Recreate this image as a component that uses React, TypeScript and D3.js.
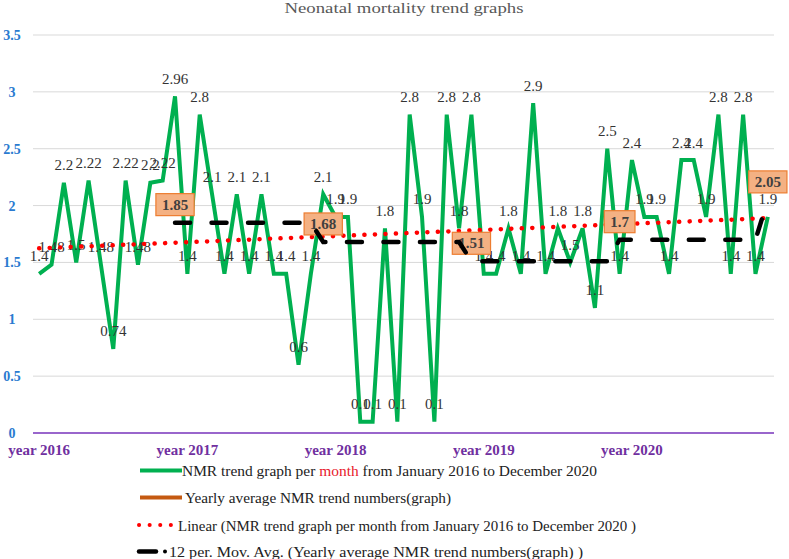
import React from "react";
import * as d3 from "d3";

const title = "Neonatal mortality trend  graphs";
const yearLabels = ["year 2016", "year 2017", "year 2018", "year 2019", "year 2020"];
const nmrMonthly2016 = [1.4, 1.48, 2.2, 1.5, 2.22, 1.48, 0.74, 2.22, 1.48, 2.2, 2.22, 2.96];
const nmrMonthly2017 = [1.4, 2.8, 2.1, 1.4, 2.1, 1.4, 2.1, 1.4, 1.4, 0.6, 1.4, 2.1];
const nmrMonthly2018 = [1.9, 1.9, 0.1, 0.1, 1.8, 0.1, 2.8, 1.9, 0.1, 2.8, 1.8, 2.8];
const nmrMonthly2019 = [1.4, 1.4, 1.8, 1.4, 2.9, 1.4, 1.8, 1.5, 1.8, 1.1, 2.5, 1.4];
const nmrMonthly2020 = [2.4, 1.9, 1.9, 1.4, 2.4, 2.4, 1.9, 2.8, 1.4, 2.8, 1.4, 1.9];
const yearlyAverage = [1.85, 1.68, 1.51, 1.7, 2.05];
const yTicks = [0, 0.5, 1, 1.5, 2, 2.5, 3, 3.5];
const legendLabels = [
  "NMR trend graph per month from January 2016 to December 2020",
  "Yearly average NMR trend numbers(graph)",
  "Linear (NMR trend graph per month from January 2016 to December 2020 )",
  "12 per. Mov. Avg. (Yearly average NMR trend numbers(graph) )",
];

const W = 789;
const H = 559;
const PL = 33;
const PR = 774;
const PT = 35;
const PB = 433;

const serif = "Liberation Serif, DejaVu Serif, serif";

export default function App() {
  const monthly = [
    ...nmrMonthly2016,
    ...nmrMonthly2017,
    ...nmrMonthly2018,
    ...nmrMonthly2019,
    ...nmrMonthly2020,
  ];
  const n = monthly.length;
  const idx = d3.range(n);
  const xb = d3.scaleBand<number>().domain(idx).range([PL, PR]);
  const cx = (i: number) => (xb(i) as number) + xb.bandwidth() / 2;
  const y = d3.scaleLinear().domain([0, 3.5]).range([PB, PT]);

  // yearly series: value only at December of each year
  const yearly: (number | null)[] = idx.map((i) =>
    i % 12 === 11 ? yearlyAverage[Math.floor(i / 12)] : null
  );

  // 12-period moving average of yearly series (blanks ignored)
  const ma: [number, number][] = [];
  for (let i = 11; i < n; i++) {
    const w = yearly.slice(i - 11, i + 1).filter((v) => v != null) as number[];
    if (w.length) ma.push([i, d3.mean(w) as number]);
  }

  // linear trend of monthly series
  const mx = d3.mean(idx) as number;
  const my = d3.mean(monthly) as number;
  let sxy = 0;
  let sxx = 0;
  idx.forEach((i) => {
    sxy += (i - mx) * (monthly[i] - my);
    sxx += (i - mx) * (i - mx);
  });
  const slope = sxy / sxx;
  const icpt = my - slope * mx;
  const trend: [number, number][] = [
    [0, icpt],
    [n - 1, icpt + slope * (n - 1)],
  ];

  const line = d3
    .line<[number, number]>()
    .x((d) => cx(d[0]))
    .y((d) => y(d[1]));

  const greenPath = line(monthly.map((v, i) => [i, v] as [number, number])) as string;
  const trendPath = line(trend) as string;
  const maPath = line(ma) as string;

  const boxW = (s: string) => {
    let w = 0;
    for (const c of s) w += c === "." ? 3.75 : 7.5;
    return w + 12;
  };

  const legendY = [476, 503, 530.5, 557];
  const ts = { fontFamily: serif } as React.CSSProperties;

  return (
    <svg
      width={W}
      height={H}
      style={{ position: "absolute", left: 0, top: 0, background: "#fff", fontFamily: serif }}
    >
      <rect x={0} y={0} width={W} height={H} fill="#fff" />
      <text
        x={404}
        y={13}
        textAnchor="middle"
        fontSize={15}
        fill="#595959"
        style={ts}
        textLength={239}
        lengthAdjust="spacingAndGlyphs"
      >
        {title}
      </text>

      {yTicks
        .filter((t) => t > 0)
        .map((t) => (
          <line key={"g" + t} x1={PL} x2={PR} y1={y(t)} y2={y(t)} stroke="#d9d9d9" strokeWidth={1} />
        ))}
      <line x1={PL} x2={PR} y1={y(0)} y2={y(0)} stroke="#9966cc" strokeWidth={2} />

      {yTicks.map((t) => (
        <text
          key={"yt" + t}
          x={12}
          y={y(t) + 5}
          textAnchor="middle"
          fontSize={14}
          fontWeight="bold"
          fill="#2a7ad0"
          style={ts}
        >
          {String(t)}
        </text>
      ))}

      {yearLabels.map((l, k) => (
        <text
          key={l}
          x={cx(k * 12)}
          y={455}
          textAnchor="middle"
          fontSize={15}
          fontWeight="bold"
          fill="#7030a0"
          style={ts}
        >
          {l}
        </text>
      ))}

      <path d={greenPath} fill="none" stroke="#00b050" strokeWidth={4} strokeLinejoin="miter" />

      {monthly.map((v, i) => (
        <text
          key={"dl" + i}
          x={cx(i)}
          y={y(v) - 12.5}
          textAnchor="middle"
          fontSize={15}
          fill="#333"
          style={ts}
        >
          {String(v)}
        </text>
      ))}

      <path
        d={trendPath}
        fill="none"
        stroke="#ff0000"
        strokeWidth={4.5}
        strokeLinecap="round"
        strokeDasharray="0.1,10.4"
      />

      {yearly.map((v, i) => {
        if (v == null) return null;
        const s = String(v);
        const w = boxW(s);
        const yc = y(v) - 18;
        return (
          <g key={"yb" + i}>
            <rect x={cx(i) - w / 2} y={yc - 11} width={w} height={22} fill="#f4b183" stroke="#ed7d31" strokeWidth={1.2} />
            <text x={cx(i)} y={yc + 5} textAnchor="middle" fontSize={15} fontWeight="bold" fill="#404040" style={ts}>
              {s}
            </text>
          </g>
        );
      })}

      <path
        d={maPath}
        fill="none"
        stroke="#000"
        strokeWidth={4.5}
        strokeLinecap="round"
        strokeDasharray="15,21.5"
      />

      {/* legend */}
      <line x1={140} x2={182} y1={legendY[0] - 5.5} y2={legendY[0] - 5.5} stroke="#00b050" strokeWidth={4} />
      <text x={182} y={legendY[0]} fontSize={15} fill="#222" style={ts} textLength={415} lengthAdjust="spacingAndGlyphs">
        {"NMR trend graph per "}
        <tspan fill="#e8192c">month</tspan>
        {" from January 2016 to December 2020"}
      </text>

      <line x1={140} x2={182} y1={legendY[1] - 5.5} y2={legendY[1] - 5.5} stroke="#c55a11" strokeWidth={4} />
      <text x={185} y={legendY[1]} fontSize={15} fill="#222" style={ts} textLength={266} lengthAdjust="spacingAndGlyphs">
        {legendLabels[1]}
      </text>

      <line
        x1={139}
        x2={171}
        y1={legendY[2] - 5.5}
        y2={legendY[2] - 5.5}
        stroke="#ff0000"
        strokeWidth={4}
        strokeLinecap="round"
        strokeDasharray="0.1,10.5"
      />
      <text x={178} y={legendY[2]} fontSize={15} fill="#222" style={ts} textLength={458} lengthAdjust="spacingAndGlyphs">
        {legendLabels[2]}
      </text>

      <line x1={139} x2={156} y1={legendY[3] - 5.5} y2={legendY[3] - 5.5} stroke="#000" strokeWidth={4.5} strokeLinecap="round" />
      <circle cx={165} cy={legendY[3] - 5.5} r={2} fill="#000" />
      <text x={169} y={legendY[3]} fontSize={15} fill="#222" style={ts} textLength={414} lengthAdjust="spacingAndGlyphs">
        {legendLabels[3]}
      </text>
    </svg>
  );
}
